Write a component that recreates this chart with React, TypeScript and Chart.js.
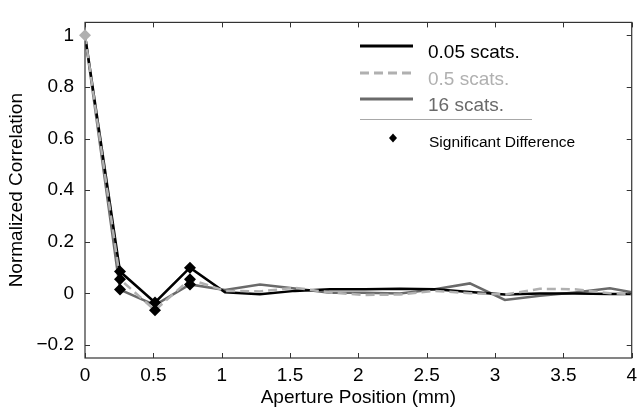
import React, { useEffect, useRef } from "react";
import { Chart, registerables } from "chart.js";

Chart.register(...registerables);

const positions = [0, 0.256, 0.512, 0.768, 1.024, 1.28, 1.536, 1.792, 2.048, 2.304, 2.56, 2.816, 3.072, 3.328, 3.584, 3.84, 4.096];
const scats005 = [1, 0.085, -0.035, 0.1, 0.005, -0.003, 0.01, 0.016, 0.016, 0.018, 0.016, 0.006, -0.004, 0.0, 0.0, -0.002, -0.002];
const scats05 = [1, 0.055, -0.065, 0.055, 0.01, 0.008, 0.022, 0.004, -0.006, -0.004, 0.01, 0.001, -0.004, 0.018, 0.016, 0.001, -0.003];
const scats16 = [1, 0.015, -0.045, 0.035, 0.013, 0.035, 0.019, 0.003, 0.003, 0.0, 0.016, 0.039, -0.025, -0.009, 0.004, 0.02, -0.004];
const sigX = [0.256, 0.256, 0.256, 0.512, 0.512, 0.768, 0.768, 0.768];
const sigY = [0.085, 0.055, 0.015, -0.035, -0.065, 0.1, 0.055, 0.035];
const xTicks = [0, 0.5, 1, 1.5, 2, 2.5, 3, 3.5, 4];
const yTicks = [-0.2, 0, 0.2, 0.4, 0.6, 0.8, 1];
const legendLabels = ["0.05 scats.", "0.5 scats.", "16 scats."];
const sigLabel = "Significant Difference";
const xTitle = "Aperture Position (mm)";
const yTitle = "Normalized Correlation";

const BLACK = "#000000";
const LIGHT = "#b0b0b0";
const DARK = "#6a6a6a";
const AXIS = "#333333";
const FONT = "'Liberation Sans', Arial, Helvetica, sans-serif";
const DASH = [9, 5];

const toPts = (ys: number[]) => positions.map((x, i) => ({ x, y: ys[i] }));

export default function App() {
  const ref = useRef<HTMLCanvasElement | null>(null);
  useEffect(() => {
    if (!ref.current) return;
    const overlay = {
      id: "overlay",
      afterDraw(chart: any) {
        const ctx = chart.ctx as CanvasRenderingContext2D;
        const { left, right, top, bottom } = chart.chartArea;
        const xs = chart.scales.x;
        const ys = chart.scales.y;
        ctx.save();
        ctx.strokeStyle = AXIS;
        ctx.lineWidth = 1.2;
        ctx.strokeRect(left, top, right - left, bottom - top);
        ctx.beginPath();
        xTicks.forEach((v) => {
          const px = Math.round(xs.getPixelForValue(v)) + 0.5;
          ctx.moveTo(px, bottom);
          ctx.lineTo(px, bottom - 5);
          ctx.moveTo(px, top);
          ctx.lineTo(px, top + 5);
        });
        yTicks.forEach((v) => {
          const py = Math.round(ys.getPixelForValue(v)) + 0.5;
          ctx.moveTo(left, py);
          ctx.lineTo(left + 5, py);
          ctx.moveTo(right, py);
          ctx.lineTo(right - 5, py);
        });
        ctx.lineWidth = 1;
        ctx.stroke();
        // light gray diamond at origin point (drawn above the axis)
        const dx = xs.getPixelForValue(positions[0]);
        const dy = ys.getPixelForValue(scats05[0]);
        ctx.beginPath();
        ctx.fillStyle = LIGHT;
        ctx.moveTo(dx, dy - 6);
        ctx.lineTo(dx + 6, dy);
        ctx.lineTo(dx, dy + 6);
        ctx.lineTo(dx - 6, dy);
        ctx.closePath();
        ctx.fill();
        ctx.fillStyle = BLACK;
        ctx.font = `19px ${FONT}`;
        ctx.textAlign = "center";
        ctx.textBaseline = "middle";
        ctx.fillText(xTitle, (left + right) / 2, 398);
        ctx.save();
        ctx.translate(17, (top + bottom) / 2);
        ctx.rotate(-Math.PI / 2);
        ctx.fillText(yTitle, 0, 0);
        ctx.restore();
        const lineY = [46, 73, 99];
        const colors = [BLACK, LIGHT, DARK];
        lineY.forEach((y, i) => {
          ctx.beginPath();
          ctx.strokeStyle = colors[i];
          ctx.lineWidth = 3;
          ctx.setLineDash(i === 1 ? DASH : []);
          ctx.moveTo(360, y);
          ctx.lineTo(413, y);
          ctx.stroke();
          ctx.setLineDash([]);
          ctx.fillStyle = colors[i];
          ctx.font = `19px ${FONT}`;
          ctx.textAlign = "left";
          ctx.textBaseline = "middle";
          ctx.fillText(legendLabels[i], 428, y + 7);
        });
        ctx.beginPath();
        ctx.strokeStyle = "#a8a8a8";
        ctx.lineWidth = 1;
        ctx.moveTo(360, 119.5);
        ctx.lineTo(532, 119.5);
        ctx.stroke();
        ctx.beginPath();
        ctx.fillStyle = BLACK;
        ctx.moveTo(393, 133.5);
        ctx.lineTo(397, 138);
        ctx.lineTo(393, 142.5);
        ctx.lineTo(389, 138);
        ctx.closePath();
        ctx.fill();
        ctx.font = `15.5px ${FONT}`;
        ctx.fillText(sigLabel, 429, 142.5);
        ctx.restore();
      },
    };
    const chart = new Chart(ref.current, {
      type: "line",
      data: {
        datasets: [
          {
            type: "scatter",
            data: sigX.map((x, i) => ({ x, y: sigY[i] })),
            pointStyle: "rectRot",
            pointRadius: 6,
            backgroundColor: BLACK,
            borderColor: BLACK,
            borderWidth: 0,
            showLine: false,
            order: 1,
          } as any,
          {
            data: toPts(scats05),
            borderColor: LIGHT,
            borderWidth: 2.5,
            borderDash: DASH,
            pointRadius: 0,
            tension: 0,
            fill: false,
            order: 2,
          },
          {
            data: toPts(scats005),
            borderColor: BLACK,
            borderWidth: 2.5,
            pointRadius: 0,
            tension: 0,
            fill: false,
            order: 3,
          },
          {
            data: toPts(scats16),
            borderColor: DARK,
            borderWidth: 2.5,
            pointRadius: 0,
            tension: 0,
            fill: false,
            order: 4,
          },
        ],
      },
      options: {
        responsive: false,
        animation: false,
        layout: { padding: { left: 0, right: 8, top: 11, bottom: 0 } },
        plugins: { legend: { display: false }, tooltip: { enabled: false } },
        scales: {
          x: {
            type: "linear",
            min: 0,
            max: 4,
            grid: { display: false, drawTicks: false, tickLength: 0 },
            border: { display: false },
            afterBuildTicks: (s: any) => {
              s.ticks = xTicks.map((v) => ({ value: v }));
            },
            afterFit: (s: any) => {
              s.height = 51;
            },
            ticks: {
              padding: 6,
              maxRotation: 0,
              autoSkip: false,
              color: BLACK,
              font: { family: FONT, size: 19 },
              callback: (v: any) => String(v),
            },
          },
          y: {
            type: "linear",
            min: -0.25,
            max: 1.05,
            grid: { display: false, drawTicks: false, tickLength: 0 },
            border: { display: false },
            afterBuildTicks: (s: any) => {
              s.ticks = yTicks.map((v) => ({ value: v }));
            },
            afterFit: (s: any) => {
              s.width = 85;
            },
            ticks: {
              padding: 11,
              autoSkip: false,
              color: BLACK,
              font: { family: FONT, size: 19 },
              callback: (v: any) => {
                const n = Math.round(Number(v) * 10) / 10;
                return n < 0 ? "\u2212" + String(Math.abs(n)) : String(n);
              },
            },
          },
        },
      },
      plugins: [overlay],
    } as any);
    return () => chart.destroy();
  }, []);
  return (
    <div style={{ position: "absolute", left: 0, top: 0, width: 643, height: 409, background: "#fff" }}>
      <canvas ref={ref} width={643} height={409} style={{ display: "block" }} />
    </div>
  );
}
